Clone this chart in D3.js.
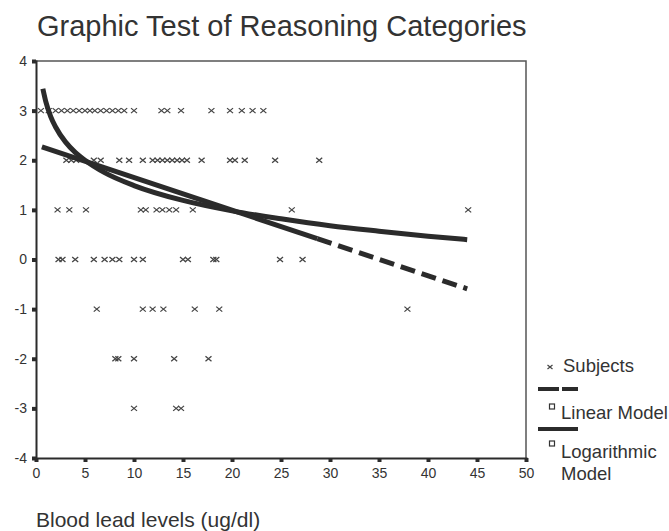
<!DOCTYPE html>
<html lang="en">
<head>
<meta charset="UTF-8">
<title>Graphic Test of Reasoning Categories</title>
<script src="https://d3js.org/d3.v7.min.js"></script>
<style>
  body { margin: 0; background: #fff; }
  text { font-family: "Liberation Sans", Arial, sans-serif; fill: #333; }
</style>
</head>
<body>
<div id="chart"></div>
<script>
// subjects: blood lead (x) for each reasoning score row
const lead3 = [0.5, 1.3, 2.0, 2.6, 3.2, 3.8, 4.4, 5.0, 5.5, 6.0, 6.6, 7.2, 7.8, 8.4, 9.0, 10.0, 12.8, 13.4, 14.8, 17.9, 19.8, 21.0, 22.1, 23.2];
const lead2 = [3.1, 3.6, 4.1, 5.9, 6.6, 8.5, 9.5, 10.9, 11.9, 12.4, 12.9, 13.4, 13.9, 14.4, 14.9, 15.4, 16.9, 19.8, 20.3, 21.3, 24.4, 28.9];
const lead1 = [2.2, 3.4, 5.1, 10.7, 11.2, 12.3, 12.9, 13.6, 14.3, 16.0, 26.1, 44.1];
const lead0 = [2.3, 2.7, 4.0, 5.9, 7.0, 7.8, 8.5, 10.0, 10.9, 15.0, 15.5, 18.1, 18.4, 24.9, 27.2];
const leadM1 = [6.2, 10.9, 11.9, 13.0, 16.2, 18.7, 37.9];
const leadM2 = [8.1, 8.4, 10.0, 14.1, 17.6];
const leadM3 = [10.0, 14.3, 14.8];
const scoreRows = [3, 2, 1, 0, -1, -2, -3];
const leadRows = [lead3, lead2, lead1, lead0, leadM1, leadM2, leadM3];

// fitted curves
const logX = [0.7, 1, 1.5, 2, 3, 4, 5, 7, 10, 15, 20, 25, 30, 35, 40, 44];
const logY = [3.44, 3.18, 2.88, 2.67, 2.37, 2.16, 2.0, 1.75, 1.49, 1.19, 0.98, 0.82, 0.68, 0.57, 0.47, 0.40];
const linSolidX = [0.6, 28.7];
const linSolidY = [2.27, 0.42];
const linDashX = [28.7, 44];
const linDashY = [0.42, -0.59];

const xTicks = [0, 5, 10, 15, 20, 25, 30, 35, 40, 45, 50];
const yTicks = [4, 3, 2, 1, 0, -1, -2, -3, -4];

const width = 669, height = 531;
const plotLeft = 36, plotRight = 526, plotTop = 61, plotBottom = 458;
const ink = "#2b2b2b";

const svg = d3.select("#chart").append("svg")
    .attr("width", width)
    .attr("height", height);

svg.append("rect").attr("width", width).attr("height", height).attr("fill", "#fff");

const x = d3.scaleLinear().domain([0, 50]).range([plotLeft, plotRight]);
const y = d3.scaleLinear().domain([-4, 4]).range([plotBottom, plotTop]);

// title
svg.append("text")
    .attr("x", 37).attr("y", 36)
    .attr("font-size", 29)
    .text("Graphic Test of Reasoning Categories");

// frame (top and right)
svg.append("path")
    .attr("d", `M${plotLeft},${plotTop}H${plotRight}V${plotBottom}`)
    .attr("fill", "none").attr("stroke", "#555").attr("stroke-width", 1.5);

// axes
const xAxis = svg.append("g")
    .attr("transform", `translate(0,${plotBottom})`)
    .call(d3.axisBottom(x).tickValues(xTicks).tickFormat(d => String(d)).tickSize(4).tickPadding(6));
const yAxis = svg.append("g")
    .attr("transform", `translate(${plotLeft},0)`)
    .call(d3.axisLeft(y).tickValues(yTicks).tickFormat(d => String(d)).tickSize(4).tickPadding(5));

[xAxis, yAxis].forEach(g => {
    g.select(".domain").attr("stroke", ink).attr("stroke-width", 2);
    g.selectAll(".tick line").attr("stroke", ink).attr("stroke-width", 4);
    g.selectAll(".tick text")
        .attr("font-family", "Liberation Sans, Arial, sans-serif")
        .attr("font-size", 14).attr("fill", "#333");
});

// x axis title
svg.append("text")
    .attr("x", 36).attr("y", 527)
    .attr("font-size", 21)
    .text("Blood lead levels (ug/dl)");

// subjects
const cross = "M-3,-2.5L3,2.5M-3,2.5L3,-2.5";
const pts = [];
leadRows.forEach((row, i) => row.forEach(v => pts.push({ lead: v, score: scoreRows[i] })));
svg.append("g").selectAll("path")
    .data(pts)
    .join("path")
    .attr("transform", d => `translate(${x(d.lead)},${y(d.score)})`)
    .attr("d", cross)
    .attr("stroke", "#444").attr("stroke-width", 1.3).attr("fill", "none");

// model lines
const line = d3.line().x(d => x(d[0])).y(d => y(d[1])).curve(d3.curveMonotoneX);
svg.append("path")
    .attr("d", line(d3.zip(logX, logY)))
    .attr("fill", "none").attr("stroke", ink).attr("stroke-width", 5);
svg.append("path")
    .attr("d", line(d3.zip(linSolidX, linSolidY)))
    .attr("fill", "none").attr("stroke", ink).attr("stroke-width", 5);
svg.append("path")
    .attr("d", line(d3.zip(linDashX, linDashY)))
    .attr("fill", "none").attr("stroke", ink).attr("stroke-width", 5)
    .attr("stroke-dasharray", "15,7");

// legend
const lg = svg.append("g");
lg.append("path").attr("transform", "translate(550,367)").attr("d", "M-2.5,-2L2.5,2M-2.5,2L2.5,-2")
    .attr("stroke", "#444").attr("stroke-width", 1.2);
lg.append("text").attr("x", 563).attr("y", 372).attr("font-size", 18.5).text("Subjects");
lg.append("path").attr("d", "M538,389H578").attr("stroke", ink).attr("stroke-width", 4)
    .attr("stroke-dasharray", "21,3");
lg.append("rect").attr("x", 549.5).attr("y", 404).attr("width", 5).attr("height", 5)
    .attr("fill", "none").attr("stroke", "#333").attr("stroke-width", 1.2);
lg.append("text").attr("x", 561).attr("y", 419).attr("font-size", 18.5).text("Linear Model");
lg.append("path").attr("d", "M538,429H578").attr("stroke", ink).attr("stroke-width", 4);
lg.append("rect").attr("x", 549.5).attr("y", 441).attr("width", 5).attr("height", 5)
    .attr("fill", "none").attr("stroke", "#333").attr("stroke-width", 1.2);
lg.append("text").attr("x", 561).attr("y", 458).attr("font-size", 18.5).text("Logarithmic");
lg.append("text").attr("x", 561).attr("y", 480).attr("font-size", 18.5).text("Model");
</script>
</body>
</html>
